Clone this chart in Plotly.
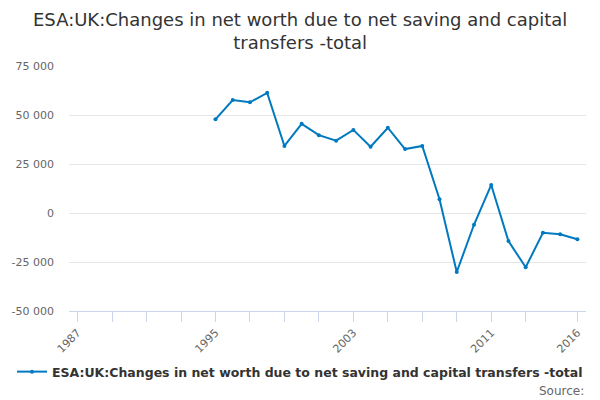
import plotly.graph_objects as go

# Data
years = list(range(1995, 2017))
values = [47800, 57600, 56500, 61300, 34200, 45500, 39700, 36900, 42400, 33800, 43500,
          32600, 34200, 7000, -30100, -6000, 14300, -14300, -27700, -10100, -10800, -13400]
series_name = "ESA:UK:Changes in net worth due to net saving and capital transfers -total"

x_tick_years = list(range(1987, 2014, 2)) + [2016]
x_tick_labels = ["1987", "1995", "2003", "2011", "2016"]
y_ticks = [-50000, -25000, 0, 25000, 50000, 75000]
y_tick_labels = ["-50 000", "-25 000", "0", "25 000", "50 000", "75 000"]

fig = go.Figure()
fig.add_trace(go.Scatter(
    x=years, y=values, name=series_name,
    mode="lines+markers",
    line=dict(color="#0079c1", width=2),
    marker=dict(size=4, color="#0079c1"),
))

fig.update_layout(
    width=600, height=400,
    paper_bgcolor="white", plot_bgcolor="white",
    font=dict(family="DejaVu Sans", color="#333333"),
    margin=dict(l=69, r=14, t=66, b=89),
    showlegend=True,
    legend=dict(orientation="h", x=0.5, xanchor="center", xref="container",
                y=0.07, yanchor="middle", yref="container", itemwidth=30,
                font=dict(size=12.5, color="#333333", weight="bold")),
    xaxis=dict(
        range=[1986.5, 2016.5], automargin=False,
        tickvals=x_tick_years,
        ticktext=[str(y) if str(y) in x_tick_labels else "" for y in x_tick_years],
        tickangle=-45, ticks="outside", ticklen=10, tickcolor="#ccd6eb",
        showline=True, linecolor="#ccd6eb", showgrid=False, zeroline=False,
        tickfont=dict(size=11, color="#666666"),
    ),
    yaxis=dict(
        range=[-50000, 75000], automargin=False,
        tickvals=y_ticks, ticktext=y_tick_labels, ticklabelstandoff=14,
        showgrid=True, gridcolor="#e6e6e6", zeroline=False,
        tickfont=dict(size=11, color="#666666"),
    ),
    annotations=[
        # title centred on the page rather than the plot area
        dict(text="ESA:UK:Changes in net worth due to net saving and capital<br>transfers -total",
             xref="paper", yref="paper", x=(300 - 69) / 517, y=1 + 59 / 245,
             xanchor="center", yanchor="top",
             showarrow=False, font=dict(size=18, color="#333333")),
        dict(text="Source:", xref="paper", yref="paper", x=1.0, y=-71 / 245,
             xanchor="right", yanchor="top", showarrow=False,
             font=dict(size=12, color="#666666")),
    ],
)

# drop the default page margin so the 600x400 figure fills the window
fig.write_html("out.html", config={"displayModeBar": False},
               post_script="document.body.style.margin='0';")
